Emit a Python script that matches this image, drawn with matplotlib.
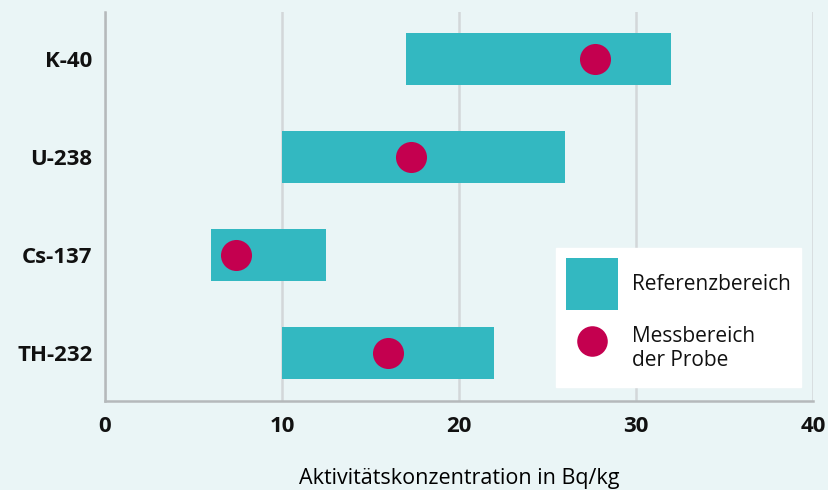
import matplotlib.pyplot as plt
from matplotlib.patches import Patch
from matplotlib.lines import Line2D

# data
isotopes = ['K-40', 'U-238', 'Cs-137', 'TH-232']
ref_low = [17, 10, 6, 10]
ref_high = [32, 26, 12.5, 22]
measured = [27.7, 17.3, 7.4, 16.0]
x_ticks = [0, 10, 20, 30, 40]

bg = '#eaf5f6'
teal = '#33b8c1'
crimson = '#c4004f'

plt.rcParams['font.family'] = ['Open Sans', 'DejaVu Sans']
plt.rcParams['text.color'] = '#111111'

fig = plt.figure(figsize=(8.29, 4.9), dpi=100, facecolor=bg)
ax = fig.add_axes([105 / 829, 1 - 401 / 490, 708 / 829, 389 / 490])
ax.set_facecolor(bg)

ypos = list(range(len(isotopes)))
widths = [h - l for l, h in zip(ref_low, ref_high)]
ax.barh(ypos, widths, left=ref_low, height=0.54, color=teal, zorder=2)
ax.scatter(measured, ypos, s=500, color=crimson, zorder=3, linewidths=0)

ax.set_xlim(0, 40)
ax.set_ylim(3.49, -0.48)
ax.set_xticks(x_ticks)
ax.set_xticklabels([str(t) for t in x_ticks], fontsize=16, fontweight='bold')
ax.set_yticks(ypos)
ax.set_yticklabels(isotopes, fontsize=16, fontweight='bold')
ax.tick_params(length=0, labelcolor='#111111')
ax.tick_params(axis='x', pad=11)
ax.tick_params(axis='y', pad=9)

ax.grid(axis='x', color='#d3d7d9', linewidth=1.8, zorder=1)
for s in ['top', 'right']:
    ax.spines[s].set_visible(False)
for s in ['left', 'bottom']:
    ax.spines[s].set_color('#b5b9bb')
    ax.spines[s].set_linewidth(1.8)

ax.set_xlabel('Aktivitätskonzentration in Bq/kg', fontsize=15.5, labelpad=22)

handles = [
    Patch(facecolor=teal, edgecolor='none'),
    Line2D([0], [0], marker='o', linestyle='none', markersize=22,
           markerfacecolor=crimson, markeredgewidth=0),
]
leg = ax.legend(handles, ['Referenzbereich', 'Messbereich\nder Probe'],
                loc='lower right', bbox_to_anchor=(801 / 829, 1 - 387 / 490),
                bbox_transform=fig.transFigure, fontsize=15,
                frameon=True, fancybox=False, framealpha=1,
                edgecolor='white', facecolor='white',
                handlelength=2.5, handleheight=3.45, labelspacing=0.7,
                borderpad=0.5, handletextpad=0.65, borderaxespad=0)
leg.set_zorder(5)

fig.savefig('out.png', dpi=100, facecolor=bg)
